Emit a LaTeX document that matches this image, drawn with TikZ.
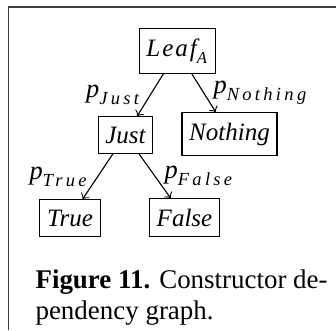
\documentclass[tikz,border=0pt]{standalone}
\usepackage{amsmath}
\usepackage{fontspec}
\setmainfont{Liberation Serif}
\newcommand{\dsub}[1]{\text{\addfontfeature{LetterSpace=18}\itshape #1}}
\begin{document}
\begin{tikzpicture}[x=0.36pt,y=-0.36pt,
  cons/.style={draw,thin,inner xsep=2.6pt,inner ysep=3.6pt,font=\fontsize{9}{10}\selectfont\itshape},
  dep/.style={->,thin},
  lab/.style={font=\fontsize{9.5}{10}\selectfont}]
\useasboundingbox (0,0) rectangle (336,330);

% frame
\draw[black!75,line width=0.5pt] (336,7) -- (8.5,7) -- (8.5,330);

% constructors
\node[cons] (leaf) at (177.5,51) {$\text{\addfontfeature{LetterSpace=8}\itshape Leaf}_{\textit{A}}$};
\node[cons] (just) at (125.5,135) {Just};
\node[cons] (nothing) at (229.5,134) {Nothing};
\node[cons] (true) at (70,218) {True};
\node[cons] (false) at (184.5,217.5) {False};

% dependencies
\draw[dep] (leaf) -- node[lab,left] {$\textit{p}_{\dsub{Just}}$} (just);
\draw[dep] (leaf) -- node[lab,right] {$\textit{p}_{\dsub{Nothing}}$} (nothing);
\draw[dep] (just) -- node[lab,left] {$\textit{p}_{\dsub{True}}$} (true);
\draw[dep] (just) -- node[lab,right] {$\textit{p}_{\dsub{False}}$} (false);

% caption
\node[anchor=north west,align=left,inner sep=0pt,
  font=\fontsize{9.7}{11.2}\selectfont] (caption) at (35,269)
  {\textbf{Figure 11.} Constructor de-\\pendency graph.};
\end{tikzpicture}
\end{document}
